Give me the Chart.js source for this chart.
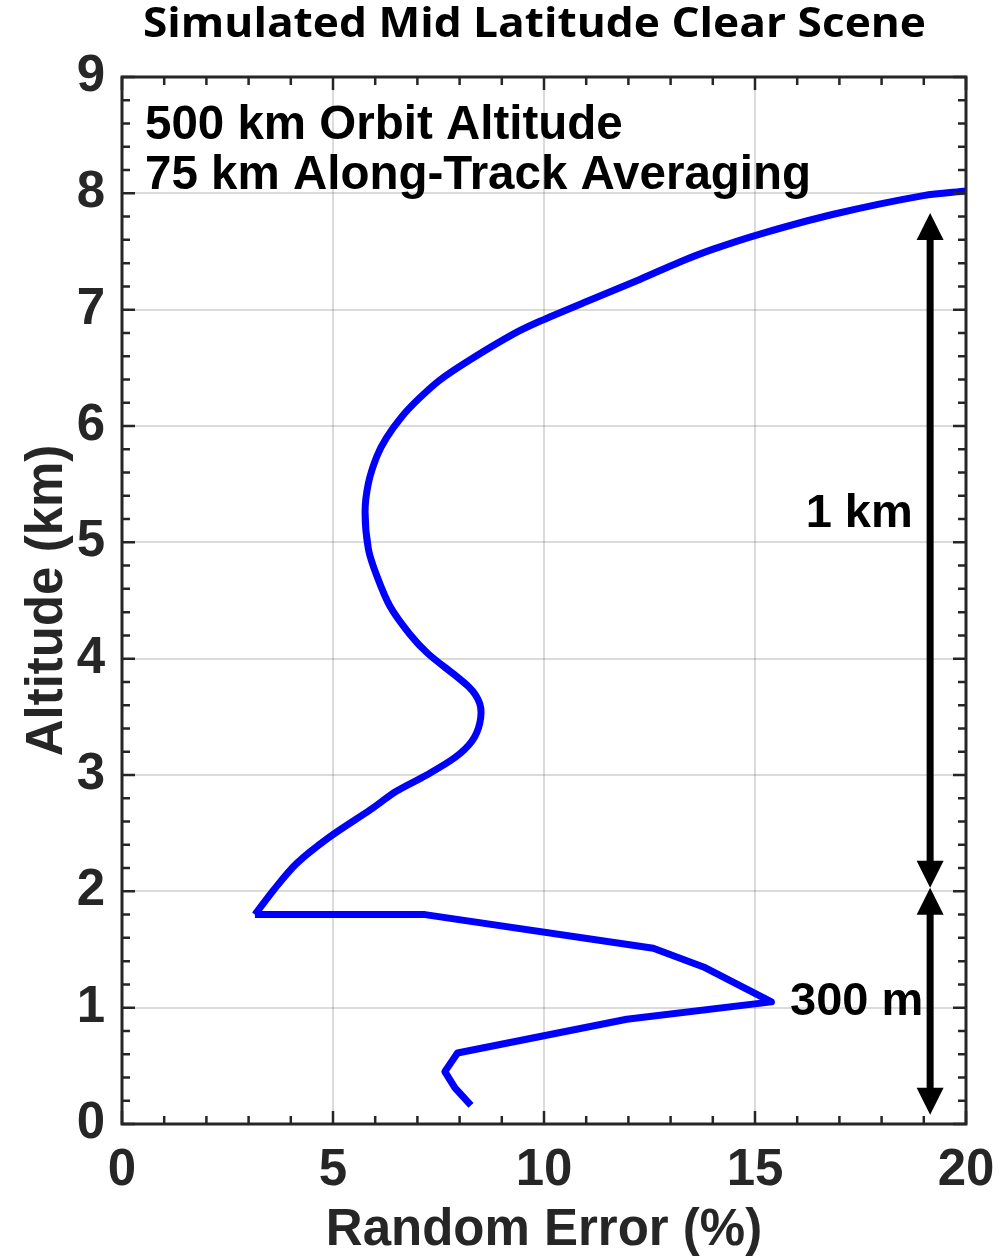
<!DOCTYPE html>
<html>
<head>
<meta charset="utf-8">
<script src="https://cdn.jsdelivr.net/npm/chart.js@4.4.1/dist/chart.umd.min.js"></script>
<style>
  html, body { margin: 0; padding: 0; background: #fff; }
  #chart { display: block; }
</style>
</head>
<body>
<canvas id="chart" width="1006" height="1256"></canvas>
<script>
// random error profile, listed from the lowest altitude up
const ALTITUDE_KM = [
  0.16, 0.31, 0.45, 0.61, 0.90, 1.05, 1.35, 1.51, 1.80, 1.80,
  2.01, 2.24, 2.47, 2.70, 2.86, 3.00, 3.15, 3.29, 3.45, 3.61,
  3.76, 4.04, 4.21, 4.45, 4.71, 4.94, 5.26, 5.51, 5.74, 5.90,
  6.08, 6.24, 6.40, 6.57, 6.79, 6.90, 7.07, 7.26, 7.41, 7.52,
  7.65, 7.82, 7.98, 8.02
];
const RANDOM_ERROR_PCT = [
  8.27, 7.89, 7.65, 7.95, 11.96, 15.39, 13.78, 12.59, 7.18, 3.15,
  3.59, 4.14, 4.93, 5.88, 6.50, 7.22, 7.89, 8.29, 8.48, 8.48,
  8.21, 7.26, 6.82, 6.35, 6.04, 5.84, 5.76, 5.84, 6.04, 6.27,
  6.63, 7.05, 7.55, 8.25, 9.27, 9.90, 11.01, 12.27, 13.22, 14.01,
  15.12, 16.86, 18.99, 20.0
];
// the boundary-layer part keeps its hard corners, the rest is drawn smooth
const SPLIT_INDEX = 9;

const X_MIN = 0, X_MAX = 20, X_STEP = 5, X_MINOR = 1;
const Y_MIN = 0, Y_MAX = 9, Y_STEP = 1, Y_MINOR = 0.2;

// vertical resolution markers: [bottom km, top km]
const ARROW_X = 19.15;
const ARROW_SPANS = [[0.08, 2.03], [2.03, 7.83]];
const ARROW_LABELS = ["300 m", "1 km"];
const ARROW_LABEL_POS = [[15.83, 0.94], [16.2, 5.13]];

const TITLE = "Simulated Mid Latitude Clear Scene";
const INFO_LINES = ["500 km Orbit Altitude", "75 km Along-Track Averaging"];

const AXIS_COLOR = "#262626";
const GRID_COLOR = "rgba(0,0,0,0.14)";
const LINE_COLOR = "#0000ff";
const FONT = "'Liberation Sans', Arial, Helvetica, sans-serif";

const points = ALTITUDE_KM.map((alt, i) => ({ x: RANDOM_ERROR_PCT[i], y: alt }));

// box outline with inward major/minor ticks on all four sides
const boxTicks = {
  id: "boxTicks",
  afterDatasetsDraw(chart) {
    const { ctx, chartArea: a, scales } = chart;
    const xs = scales.x, ys = scales.y;
    ctx.save();
    ctx.strokeStyle = AXIS_COLOR;
    ctx.lineWidth = 3;
    ctx.strokeRect(a.left, a.top, a.right - a.left, a.bottom - a.top);
    ctx.lineWidth = 2.5;
    ctx.beginPath();
    for (let k = 0; k <= Math.round((X_MAX - X_MIN) / X_MINOR); k++) {
      const px = xs.getPixelForValue(X_MIN + k * X_MINOR);
      const len = k % 5 === 0 ? 13 : 8;
      ctx.moveTo(px, a.bottom); ctx.lineTo(px, a.bottom - len);
      ctx.moveTo(px, a.top); ctx.lineTo(px, a.top + len);
    }
    for (let k = 0; k <= Math.round((Y_MAX - Y_MIN) / Y_MINOR); k++) {
      const py = ys.getPixelForValue(Y_MIN + k * Y_MINOR);
      const len = k % 5 === 0 ? 13 : 8;
      ctx.moveTo(a.left, py); ctx.lineTo(a.left + len, py);
      ctx.moveTo(a.right, py); ctx.lineTo(a.right - len, py);
    }
    ctx.stroke();
    ctx.restore();
  }
};

// double-headed arrows and their text, the info lines and the title
const annotations = {
  id: "annotations",
  afterDatasetsDraw(chart) {
    const { ctx, chartArea: a, scales } = chart;
    const xs = scales.x, ys = scales.y;
    const head = 27, half = 13.5;
    ctx.save();
    ctx.fillStyle = "#000";
    ctx.strokeStyle = "#000";
    const ax = xs.getPixelForValue(ARROW_X);
    ARROW_SPANS.forEach(([lo, hi]) => {
      const yLo = ys.getPixelForValue(lo), yHi = ys.getPixelForValue(hi);
      ctx.lineWidth = 7;
      ctx.beginPath();
      ctx.moveTo(ax, yHi + head - 2);
      ctx.lineTo(ax, yLo - head + 2);
      ctx.stroke();
      ctx.beginPath();
      ctx.moveTo(ax, yHi);
      ctx.lineTo(ax - half, yHi + head);
      ctx.lineTo(ax + half, yHi + head);
      ctx.closePath();
      ctx.fill();
      ctx.beginPath();
      ctx.moveTo(ax, yLo);
      ctx.lineTo(ax - half, yLo - head);
      ctx.lineTo(ax + half, yLo - head);
      ctx.closePath();
      ctx.fill();
    });
    ctx.font = "bold 47px " + FONT;
    ctx.textAlign = "left";
    ctx.textBaseline = "alphabetic";
    ARROW_LABELS.forEach((txt, i) => {
      const [lx, ly] = ARROW_LABEL_POS[i];
      ctx.fillText(txt, xs.getPixelForValue(lx), ys.getPixelForValue(ly));
    });
    ctx.font = "bold 47.5px " + FONT;
    INFO_LINES.forEach((txt, i) => {
      ctx.fillText(txt, a.left + 23, a.top + 62 + i * 50);
    });

    // title, stretched a little to the width of the original heading
    ctx.font = "bold 41px 'Open Sans', sans-serif";
    const w = ctx.measureText(TITLE).width;
    const sx = 783 / w;
    ctx.translate(143, 37);
    ctx.scale(sx, 1);
    ctx.fillText(TITLE, 0, 0);
    ctx.restore();
  }
};

const lineStyle = {
  showLine: true,
  borderColor: LINE_COLOR,
  borderWidth: 7,
  pointRadius: 0,
  borderJoinStyle: "round",
  borderCapStyle: "butt"
};

new Chart(document.getElementById("chart"), {
  type: "scatter",
  data: {
    datasets: [
      { ...lineStyle, data: points.slice(0, SPLIT_INDEX + 1), tension: 0 },
      { ...lineStyle, data: points.slice(SPLIT_INDEX), tension: 0.3 }
    ]
  },
  options: {
    responsive: false,
    devicePixelRatio: 1,
    animation: false,
    layout: { padding: { left: 0, right: 40, top: 77, bottom: 0 } },
    plugins: {
      legend: { display: false },
      tooltip: { enabled: false },
      title: { display: false }
    },
    scales: {
      x: {
        type: "linear",
        min: X_MIN, max: X_MAX,
        afterFit: (s) => { s.height = 132; s.paddingRight = 0; s.paddingLeft = 0; },
        ticks: {
          stepSize: X_STEP,
          color: AXIS_COLOR,
          font: { family: FONT, size: 51, weight: "bold" },
          padding: 16,
          maxRotation: 0
        },
        grid: { color: GRID_COLOR, lineWidth: 2, drawTicks: false },
        border: { display: false },
        title: {
          display: true,
          text: "Random Error (%)",
          color: AXIS_COLOR,
          font: { family: FONT, size: 51, weight: "bold", lineHeight: 1 },
          padding: 0
        }
      },
      y: {
        type: "linear",
        min: Y_MIN, max: Y_MAX,
        afterFit: (s) => { s.width = 122; },
        ticks: {
          stepSize: Y_STEP,
          color: AXIS_COLOR,
          font: { family: FONT, size: 51, weight: "bold" },
          padding: 17
        },
        grid: { color: GRID_COLOR, lineWidth: 2, drawTicks: false },
        border: { display: false },
        title: {
          display: true,
          text: "Altitude (km)",
          color: AXIS_COLOR,
          font: { family: FONT, size: 51, weight: "bold", lineHeight: 1 },
          padding: { top: 22, bottom: 0 }
        }
      }
    }
  },
  plugins: [boxTicks, annotations]
});
</script>
</body>
</html>
